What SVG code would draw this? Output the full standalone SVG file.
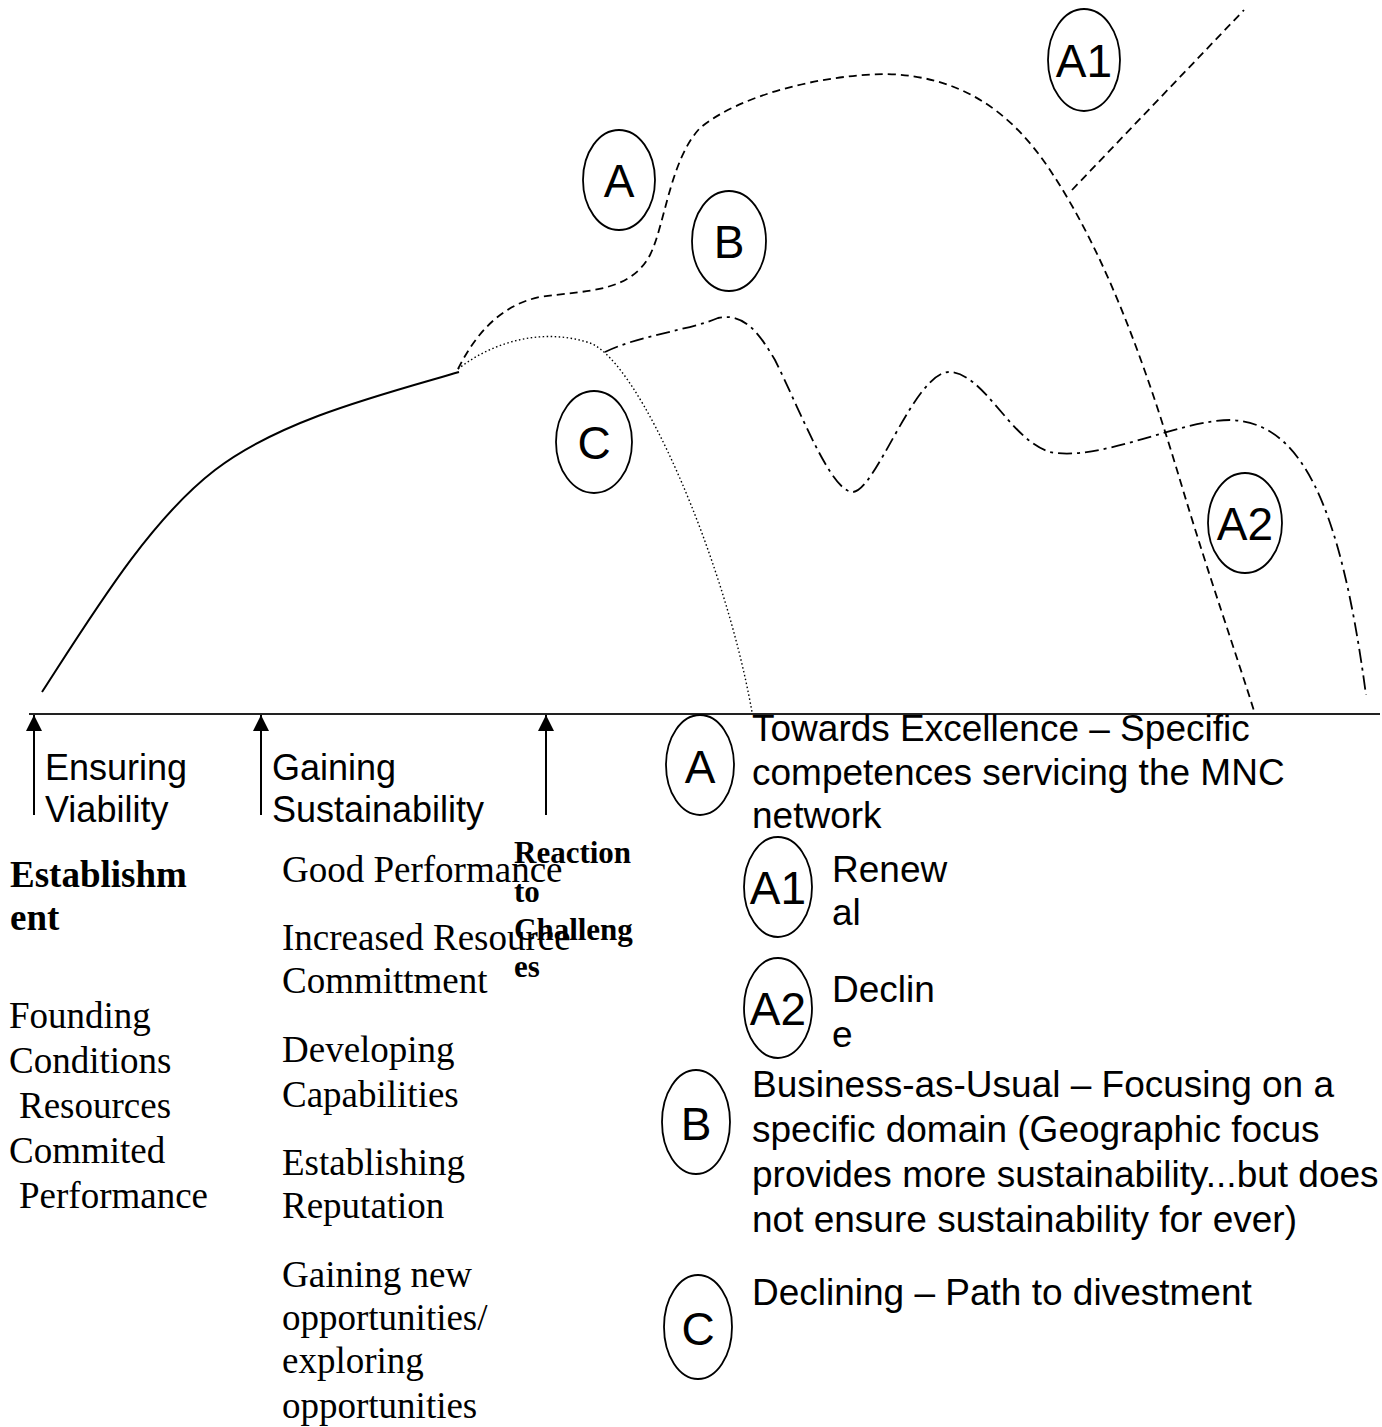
<svg xmlns="http://www.w3.org/2000/svg" width="1382" height="1427" viewBox="0 0 1382 1427">
<style>
.bg{fill:#fff}
.node{fill:none;stroke:#000;stroke-width:1.8}
.lt{font-family:"Liberation Sans",Arial,sans-serif;font-size:46px;text-anchor:middle;fill:#000}
.sans{font-family:"Liberation Sans",Arial,sans-serif;font-size:36px;fill:#000}
.leg{font-family:"Liberation Sans",Arial,sans-serif;font-size:37px;fill:#000}
.serif{font-family:"Liberation Serif","Times New Roman",serif;font-size:37px;fill:#000}
.bold{font-family:"Liberation Serif","Times New Roman",serif;font-size:37px;font-weight:bold;fill:#000}
.boldsm{font-family:"Liberation Serif","Times New Roman",serif;font-size:31px;font-weight:bold;fill:#000}
.solid{fill:none;stroke:#000;stroke-width:2}
.dash{fill:none;stroke:#000;stroke-width:1.8;stroke-dasharray:8 5}
.dot{fill:none;stroke:#000;stroke-width:1.4;stroke-dasharray:1.5 2.5}
.dashdot{fill:none;stroke:#000;stroke-width:1.8;stroke-dasharray:14 5 3 5}
.axis{fill:none;stroke:#222;stroke-width:2}
.arrow{fill:none;stroke:#000;stroke-width:2;marker-end:url(#ah)}
</style>
<defs>
<marker id="ah" markerWidth="16" markerHeight="16" refX="16" refY="8" orient="auto" markerUnits="userSpaceOnUse">
<path d="M0,0 L16,8 L0,16 z" fill="#000"/>
</marker>
</defs>
<rect class="bg" x="0" y="0" width="1382" height="1427"/>

<g id="connectors">
<path class="solid" d="M42,692 C95,610 150,520 215,470 C280,420 380,395 459,372"/>
<path class="dash" d="M458,369 C475,335 500,305 540,297 C590,290 630,292 650,255 C665,225 670,160 700,128 C740,95 820,75 886,74 C960,76 1010,110 1050,170 C1110,260 1150,380 1180,480 C1210,580 1235,650 1255,714"/>
<path class="dash" d="M1072,190 L1244,10"/>
<path class="dot" d="M458,369 C495,340 545,328 590,343 C640,362 725,560 752,712"/>
<path class="dashdot" d="M605,352 C640,335 690,330 718,318 C745,312 760,335 775,360 C800,410 830,490 852,492 C875,494 915,370 950,372 C985,374 1010,440 1050,452 C1100,462 1180,420 1230,420 C1300,422 1340,500 1366,695"/>
<path class="axis" d="M29,714 L1380,714"/>
<path class="arrow" d="M34,815 L34,715"/>
<path class="arrow" d="M261,815 L261,715"/>
<path class="arrow" d="M546,815 L546,715"/>
</g>

<g id="node-A"><ellipse class="node" cx="619" cy="180" rx="36" ry="50"/><text class="lt" x="619" y="197">A</text></g>
<g id="node-B"><ellipse class="node" cx="729" cy="241" rx="37" ry="50"/><text class="lt" x="729" y="258">B</text></g>
<g id="node-A1"><ellipse class="node" cx="1084" cy="60" rx="36" ry="51"/><text class="lt" x="1084" y="77">A1</text></g>
<g id="node-A2"><ellipse class="node" cx="1245" cy="523" rx="37" ry="50"/><text class="lt" x="1245" y="540">A2</text></g>
<g id="node-C"><ellipse class="node" cx="594" cy="442" rx="38" ry="51"/><text class="lt" x="594" y="459">C</text></g>

<g id="phase-labels">
<text class="sans" x="45" y="780">Ensuring</text>
<text class="sans" x="45" y="822">Viability</text>
<text class="sans" x="272" y="780">Gaining</text>
<text class="sans" x="272" y="822">Sustainability</text>
</g>

<g id="establishment">
<text class="bold" x="10" y="887">Establishm</text>
<text class="bold" x="10" y="930">ent</text>
<text class="serif" x="9" y="1028">Founding</text>
<text class="serif" x="9" y="1073">Conditions</text>
<text class="serif" x="19" y="1118">Resources</text>
<text class="serif" x="9" y="1163">Commited</text>
<text class="serif" x="19" y="1208">Performance</text>
</g>

<g id="sustainability-list">
<text class="serif" x="282" y="882">Good Performance</text>
<text class="serif" x="282" y="950">Increased Resource</text>
<text class="serif" x="282" y="993">Committment</text>
<text class="serif" x="282" y="1062">Developing</text>
<text class="serif" x="282" y="1107">Capabilities</text>
<text class="serif" x="282" y="1175">Establishing</text>
<text class="serif" x="282" y="1218">Reputation</text>
<text class="serif" x="282" y="1287">Gaining new</text>
<text class="serif" x="282" y="1330">opportunities/</text>
<text class="serif" x="282" y="1373">exploring</text>
<text class="serif" x="282" y="1418">opportunities</text>
</g>

<g id="reaction">
<text class="boldsm" x="514" y="863">Reaction</text>
<text class="boldsm" x="514" y="902">to</text>
<text class="boldsm" x="514" y="940">Challeng</text>
<text class="boldsm" x="514" y="977">es</text>
</g>

<g id="legend-A"><ellipse class="node" cx="700" cy="765" rx="34" ry="50"/><text class="lt" x="700" y="783">A</text>
<text class="leg" x="752" y="741">Towards Excellence – Specific</text>
<text class="leg" x="752" y="785">competences servicing the MNC</text>
<text class="leg" x="752" y="828">network</text></g>
<g id="legend-A1"><ellipse class="node" cx="778" cy="887" rx="34" ry="50"/><text class="lt" x="778" y="904">A1</text>
<text class="leg" x="832" y="882">Renew</text>
<text class="leg" x="832" y="925">al</text></g>
<g id="legend-A2"><ellipse class="node" cx="778" cy="1008" rx="34" ry="50"/><text class="lt" x="778" y="1025">A2</text>
<text class="leg" x="832" y="1002">Declin</text>
<text class="leg" x="832" y="1047">e</text></g>
<g id="legend-B"><ellipse class="node" cx="696" cy="1122" rx="34" ry="52"/><text class="lt" x="696" y="1140">B</text>
<text class="leg" x="752" y="1097">Business-as-Usual – Focusing on a</text>
<text class="leg" x="752" y="1142">specific domain (Geographic focus</text>
<text class="leg" x="752" y="1187">provides more sustainability...but does</text>
<text class="leg" x="752" y="1232">not ensure sustainability for ever)</text></g>
<g id="legend-C"><ellipse class="node" cx="698" cy="1327" rx="34" ry="52"/><text class="lt" x="698" y="1345">C</text>
<text class="leg" x="752" y="1305">Declining – Path to divestment</text></g>
</svg>
